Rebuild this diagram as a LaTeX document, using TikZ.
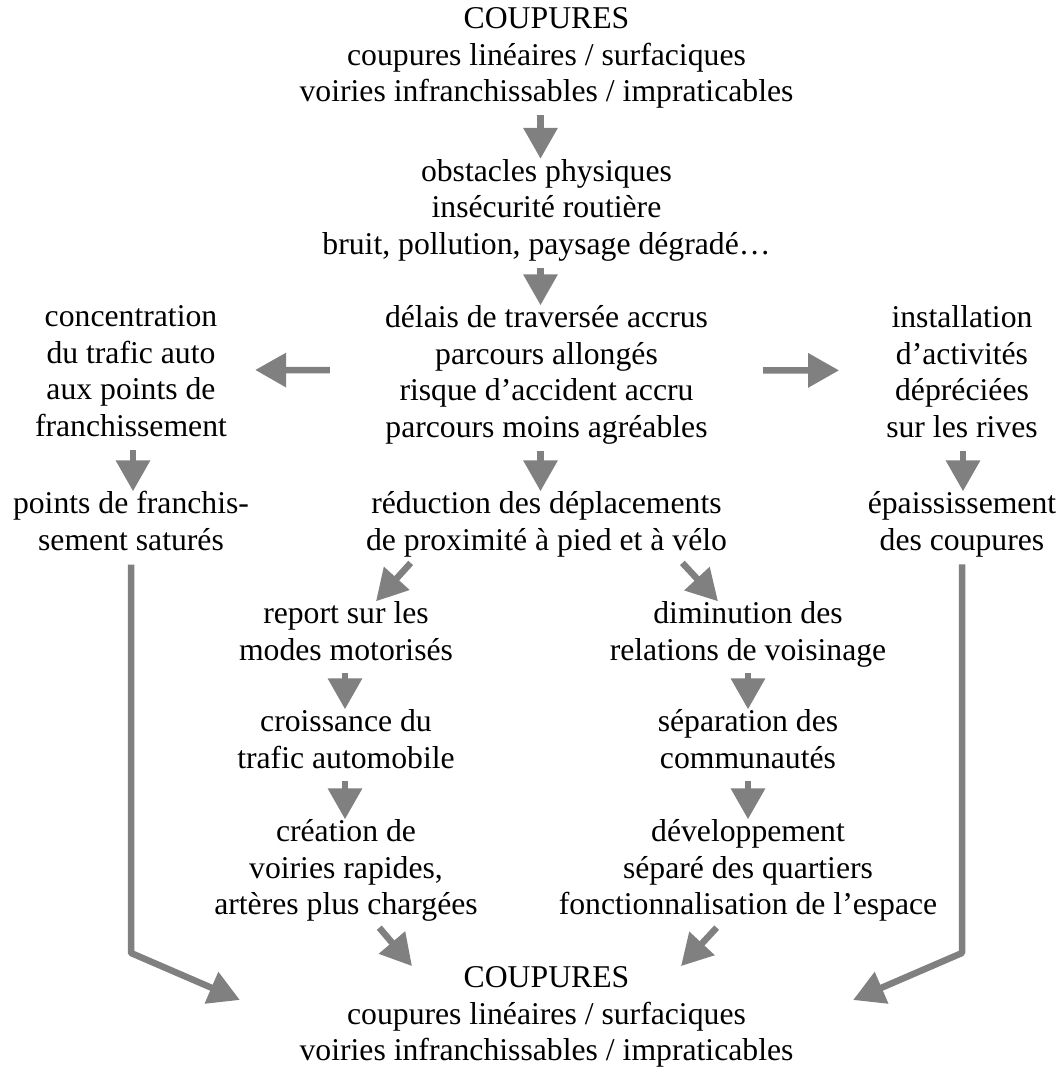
\documentclass[tikz,border=0pt]{standalone}
\usepackage{fontspec}
\setmainfont{Liberation Serif}
\usetikzlibrary{arrows.meta}

\begin{document}
\begin{tikzpicture}[x=1pt,y=-1pt,
    txt/.style={anchor=north,align=center,inner sep=0pt,
      font=\fontsize{31.7}{36.7}\selectfont,
      execute at begin node=\strut,execute at end node=\strut},
    arr/.style={draw=gray,line width=6.5pt,-{Triangle[length=31pt,width=33pt]}},
    stub/.style={arr,shorten <=2pt}]
    \useasboundingbox (0,0) rectangle (1062,1077);
    \node[txt] (coup1) at (546.5,7.3) {COUPURES\\coupures linéaires / surfaciques\\voiries infranchissables / impraticables};
    \node[txt] (obst) at (546.5,158.8) {obstacles physiques\\insécurité routière\\bruit, pollution, paysage dégradé…};
    \node[txt] (conc) at (131,305.3) {concentration\\du trafic auto\\aux points de\\franchissement};
    \node[txt] (delais) at (546.5,305.3) {délais de traversée accrus\\parcours allongés\\risque d’accident accru\\parcours moins agréables};
    \node[txt] (inst) at (962,305.3) {installation\\d’activités\\dépréciées\\sur les rives};
    \node[txt] (pts) at (131,491.3) {points de franchis-\\sement saturés};
    \node[txt] (reduc) at (546.5,491.3) {réduction des déplacements\\de proximité à pied et à vélo};
    \node[txt] (epais) at (962,491.3) {épaississement\\des coupures};
    \node[txt] (report) at (346,601.3) {report sur les\\modes motorisés};
    \node[txt] (dimin) at (748,601.3) {diminution des\\relations de voisinage};
    \node[txt] (crois) at (346,709.3) {croissance du\\trafic automobile};
    \node[txt] (separ) at (748,709.3) {séparation des\\communautés};
    \node[txt] (creat) at (346,819.3) {création de\\voiries rapides,\\artères plus chargées};
    \node[txt] (devel) at (748,819.3) {développement\\séparé des quartiers\\fonctionnalisation de l’espace};
    \node[txt] (coup2) at (546.5,966.1) {COUPURES\\coupures linéaires / surfaciques\\voiries infranchissables / impraticables};
    \foreach \a/\b/\s in {coup1/obst/-6,obst/delais/-6,delais/reduc/-6,conc/pts/2,inst/epais/1,
        report/crois/-1,crois/creat/-1,dimin/separ/0,separ/devel/0}
      \draw[stub] ([xshift=\s pt]\a.south) -- ([xshift=\s pt]\b.north);
    \draw[arr,shorten <=55pt,shorten >=28pt] ([yshift=6.7pt]delais.west) -- ([yshift=6.7pt]conc.east);
    \draw[arr,shorten <=55pt,shorten >=47pt] ([yshift=6.7pt]delais.east) -- ([yshift=6.7pt]inst.west);
    \draw[stub] ([xshift=-134.5pt]reduc.south) -- ([xshift=30pt]report.north);
    \draw[stub] ([xshift=134.5pt]reduc.south) -- ([xshift=-30pt]dimin.north);
    \draw[stub] ([xshift=32pt]creat.south) -- ([xshift=-134.5pt]coup2.north);
    \draw[stub] ([xshift=-30pt]devel.south) -- ([xshift=134.5pt]coup2.north);
    \draw[arr,shorten <=3pt,line join=round] (pts.south) -- (pts.south |- 0,953)
      -- ([xshift=-59.5pt,yshift=19pt]coup2.west);
    \draw[arr,shorten <=3pt,line join=round] (epais.south) -- (epais.south |- 0,953)
      -- ([xshift=59.5pt,yshift=19pt]coup2.east);
\end{tikzpicture}
\end{document}
